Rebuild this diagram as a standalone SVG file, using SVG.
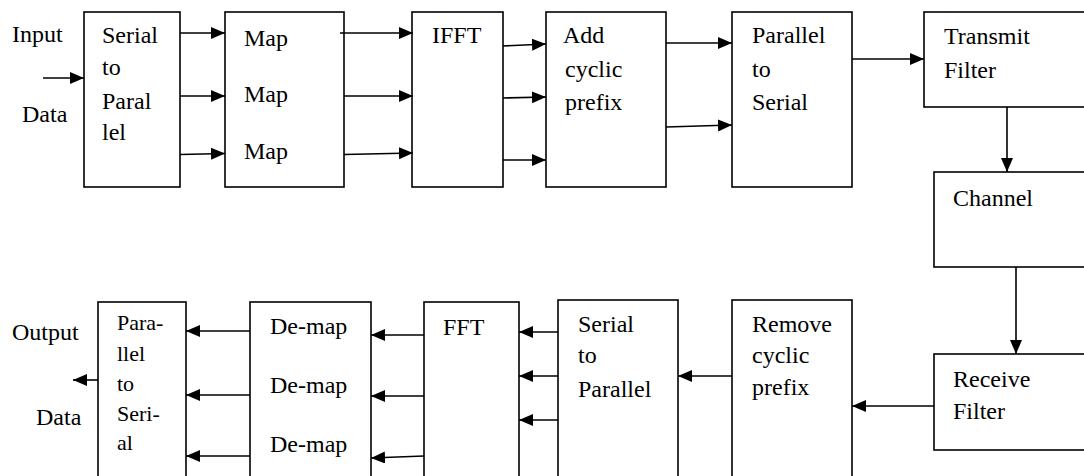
<svg xmlns="http://www.w3.org/2000/svg" width="1084" height="476" viewBox="0 0 1084 476">
<style>
.box{fill:#fff;stroke:#000;stroke-width:1.6}
.s{font-size:22px}
.c{stroke:#000;stroke-width:1.6;fill:none;marker-end:url(#ah)}
</style>
<defs>
<marker id="ah" markerUnits="userSpaceOnUse" markerWidth="15" markerHeight="13" refX="14" refY="6" orient="auto">
<path d="M0,0 L14,6 L0,12 Z" fill="#000"/>
</marker>
</defs>
<rect width="1084" height="476" fill="#fff"/>
<g font-family="Liberation Serif, Times New Roman, serif" font-size="24" fill="#000">
<g id="labels">
<text x="12" y="42">Input</text>
<text x="22" y="122">Data</text>
<text x="12" y="340">Output</text>
<text x="36" y="425">Data</text>
</g>
<g id="s2p">
<rect class="box" x="84" y="12" width="96" height="175"/>
<text x="102" y="43">Serial</text>
<text x="102" y="75">to</text>
<text x="102" y="109">Paral</text>
<text x="102" y="140">lel</text>
</g>
<g id="map">
<rect class="box" x="225" y="12" width="119" height="175"/>
<text x="244" y="46">Map</text>
<text x="244" y="102">Map</text>
<text x="244" y="159">Map</text>
</g>
<g id="ifft">
<rect class="box" x="412" y="12" width="91" height="175"/>
<text x="432" y="43">IFFT</text>
</g>
<g id="addcp">
<rect class="box" x="546" y="12" width="120" height="175"/>
<text x="563" y="43">Add</text>
<text x="565" y="77">cyclic</text>
<text x="565" y="110">prefix</text>
</g>
<g id="p2s">
<rect class="box" x="732" y="12" width="120" height="175"/>
<text x="752" y="43">Parallel</text>
<text x="752" y="77">to</text>
<text x="752" y="110">Serial</text>
</g>
<g id="txfilter">
<rect class="box" x="924" y="12" width="170" height="95"/>
<text x="944" y="44">Transmit</text>
<text x="944" y="78">Filter</text>
</g>
<g id="channel">
<rect class="box" x="934" y="172" width="160" height="95"/>
<text x="953" y="206">Channel</text>
</g>
<g id="rxfilter">
<rect class="box" x="934" y="354" width="160" height="96"/>
<text x="953" y="387">Receive</text>
<text x="953" y="419">Filter</text>
</g>
<g id="removecp">
<rect class="box" x="732" y="300" width="120" height="190"/>
<text x="752" y="332">Remove</text>
<text x="752" y="363">cyclic</text>
<text x="752" y="395">prefix</text>
</g>
<g id="s2p2">
<rect class="box" x="558" y="300" width="120" height="190"/>
<text x="578" y="332">Serial</text>
<text x="578" y="363">to</text>
<text x="578" y="397">Parallel</text>
</g>
<g id="fft">
<rect class="box" x="424" y="302" width="95" height="190"/>
<text x="443" y="335">FFT</text>
</g>
<g id="demap">
<rect class="box" x="250" y="302" width="121" height="190"/>
<text x="270" y="334">De-map</text>
<text x="270" y="393">De-map</text>
<text x="270" y="452">De-map</text>
</g>
<g id="p2s2">
<rect class="box" x="98" y="302" width="88" height="190"/>
<text class="s" x="117" y="330">Para-</text>
<text class="s" x="117" y="361">llel</text>
<text class="s" x="117" y="391">to</text>
<text class="s" x="117" y="421">Seri-</text>
<text class="s" x="117" y="450">al</text>
</g>
</g>
<g id="connectors">
<path class="c" d="M43,78 H84"/>
<path class="c" d="M180,33 H225"/>
<path class="c" d="M180,96 H225"/>
<path class="c" d="M180,154.5 L225,153.5"/>
<path class="c" d="M340,33 H413"/>
<path class="c" d="M344,96 H413"/>
<path class="c" d="M344,154.5 L413,153"/>
<path class="c" d="M503,46 L546,44"/>
<path class="c" d="M503,98 L546,97"/>
<path class="c" d="M503,160 H546"/>
<path class="c" d="M666,43 H732"/>
<path class="c" d="M666,127 L732,125"/>
<path class="c" d="M852,59 H924"/>
<path class="c" d="M1007,107 V172"/>
<path class="c" d="M1016,267 V354"/>
<path class="c" d="M934,406 H852"/>
<path class="c" d="M732,376 H678"/>
<path class="c" d="M558,332 H519"/>
<path class="c" d="M558,376 H519"/>
<path class="c" d="M558,420 H519"/>
<path class="c" d="M424,335 H371"/>
<path class="c" d="M424,396 H371"/>
<path class="c" d="M424,456 L371,458"/>
<path class="c" d="M250,331 H186"/>
<path class="c" d="M250,395 H186"/>
<path class="c" d="M250,456 H186"/>
<path class="c" d="M98,380 H73"/>
</g>
</svg>
